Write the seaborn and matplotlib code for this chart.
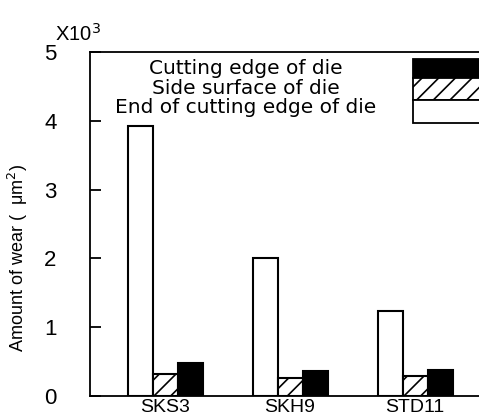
import pandas as pd
import matplotlib
matplotlib.use("Agg")
import matplotlib.pyplot as plt
import seaborn as sns
from matplotlib.patches import Rectangle

# Values (x10^3 um^2)
steels = ["SKS3", "SKH9", "STD11"]
parts = ["End of cutting edge of die", "Side surface of die", "Cutting edge of die"]
end_edge = [3.93, 2.00, 1.23]
side_surface = [0.32, 0.26, 0.29]
cutting_edge = [0.48, 0.37, 0.38]
y_ticks = [0, 1, 2, 3, 4, 5]

df = pd.DataFrame({
    "steel": steels * 3,
    "part": [parts[0]] * 3 + [parts[1]] * 3 + [parts[2]] * 3,
    "wear": end_edge + side_surface + cutting_edge,
})

sns.set_style("ticks")
plt.rcParams["font.family"] = ["DejaVu Sans"]
plt.rcParams["text.color"] = "black"
plt.rcParams["axes.labelcolor"] = "black"
plt.rcParams["xtick.color"] = "black"
plt.rcParams["ytick.color"] = "black"
plt.rcParams["hatch.linewidth"] = 1.2

fig = plt.figure(figsize=(4.79, 4.19), dpi=100)
ax = fig.add_axes([90 / 479, 23 / 419, 400 / 479, 344 / 419])

sns.barplot(data=df, x="steel", y="wear", hue="part", hue_order=parts,
            palette={parts[0]: "white", parts[1]: "white", parts[2]: "black"},
            edgecolor="black", linewidth=1.5, width=0.6, legend=False, ax=ax)
for bar in ax.containers[1]:
    bar.set_hatch("//")

ax.set_xlim(-0.6, 2.6)
ax.set_ylim(0, 5)
ax.set_yticks(y_ticks)
ax.set_xlabel("")
ax.set_ylabel("Amount of wear (  μm$^2$)", fontsize=13, family="Liberation Sans")
ax.yaxis.set_label_coords(-0.15, 0.40)
for s in ax.spines.values():
    s.set_linewidth(1.3)
    s.set_color("black")
ax.tick_params(axis="y", direction="in", length=8, width=1.3, pad=24,
               labelsize=16)
ax.tick_params(axis="x", length=0, pad=2, labelsize=14)
for lab in ax.get_yticklabels() + ax.get_xticklabels():
    lab.set_family("Liberation Sans")

ax.text(-0.0875, 1.02, "X10$^3$", transform=ax.transAxes, fontsize=14.5,
        family="Liberation Sans", ha="left", va="bottom")

# legend drawn as boxes on the right, text on the left
legend_text = [(parts[2], 0.951), (parts[1], 0.895), (parts[0], 0.840)]
for label, yy in legend_text:
    ax.text(0.39, yy, label, transform=ax.transAxes, fontsize=14.5,
            ha="center", va="center")
boxes = [("black", "", 0.924, 0.056), ("white", "//", 0.860, 0.064),
         ("white", "", 0.794, 0.066)]
for fc, h, y0, hgt in boxes:
    ax.add_patch(Rectangle((0.8075, y0), 0.4, hgt, transform=ax.transAxes,
                           facecolor=fc, edgecolor="black", hatch=h,
                           linewidth=1.3, clip_on=False))

fig.savefig("out.png", dpi=100)
